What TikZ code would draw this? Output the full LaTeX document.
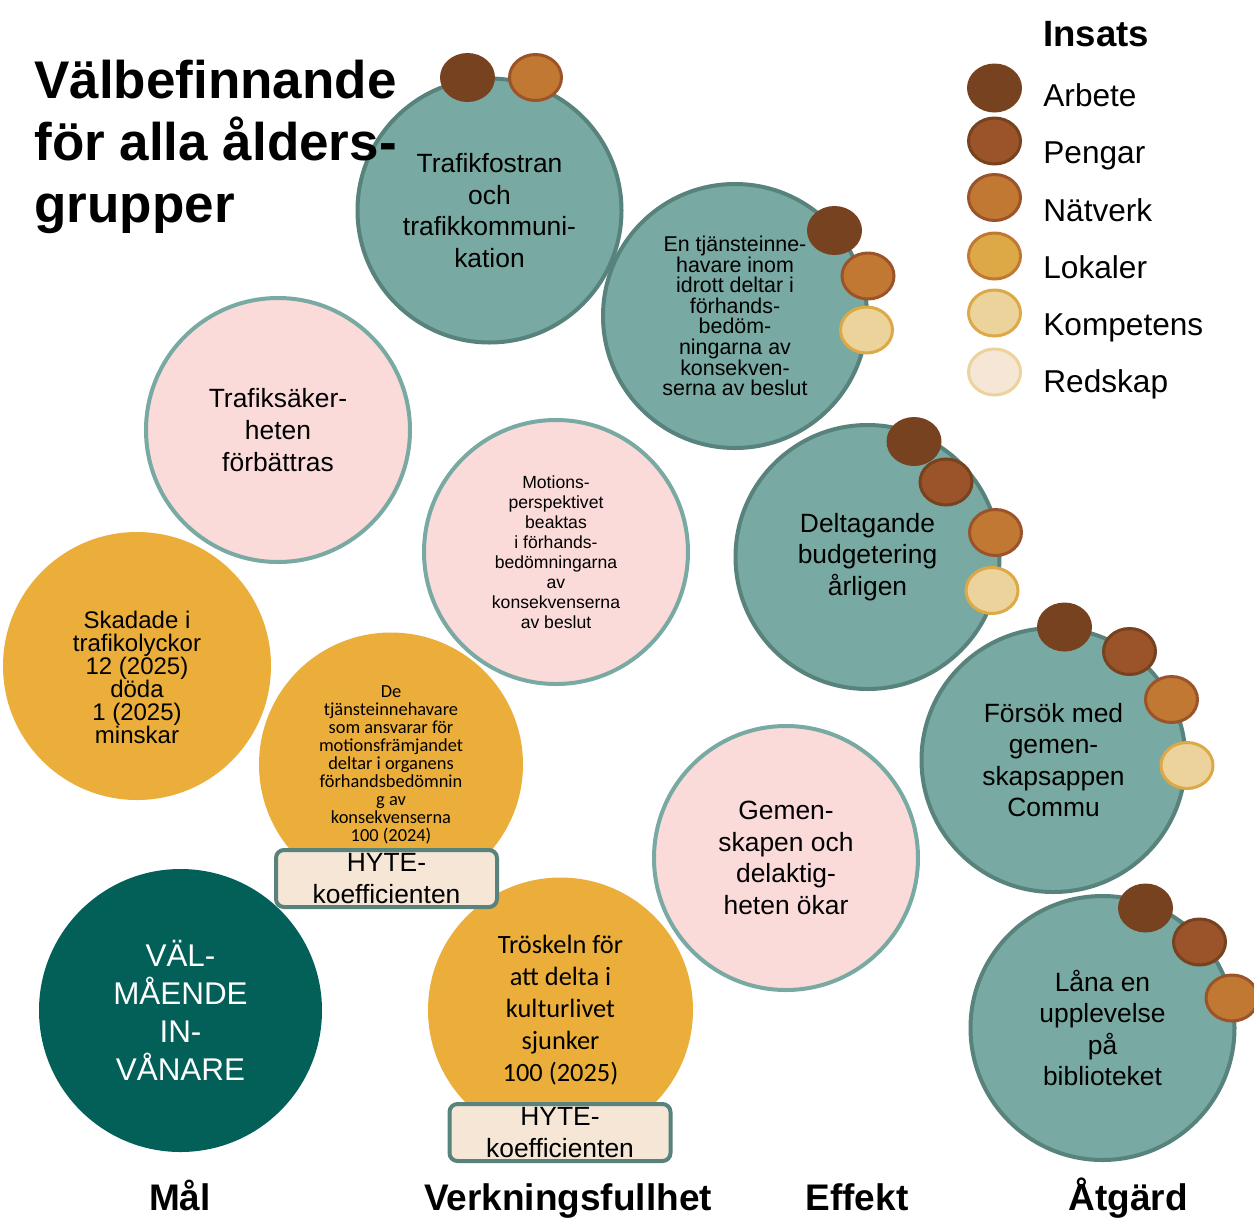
\documentclass[tikz,border=0pt]{standalone}
\usepackage{fontspec}
\setmainfont{Liberation Sans}
\newfontfamily\calib{Carlito}
\usetikzlibrary{shapes.geometric}
\definecolor{tealF}{RGB}{120,169,162}
\definecolor{tealB}{RGB}{88,130,124}
\definecolor{pinkF}{RGB}{250,219,217}
\definecolor{goldF}{RGB}{235,174,59}
\definecolor{darkT}{RGB}{2,96,89}
\definecolor{hyteF}{RGB}{245,230,214}
\definecolor{cArb}{RGB}{118,66,31}
\definecolor{cPen}{RGB}{155,83,42}
\definecolor{cNat}{RGB}{193,120,51}
\definecolor{cLok}{RGB}{221,169,70}
\definecolor{cKom}{RGB}{236,211,156}
\definecolor{cRed}{RGB}{245,230,214}
\newcommand\fsz[2]{\fontsize{#1}{#2}\selectfont}
\begin{document}
\begin{tikzpicture}[x=0.5pt,y=-0.5pt,
  act/.style={circle, draw=tealB, fill=tealF, line width=2pt, minimum size=132pt, inner sep=0pt, align=center, font=\fsz{13.2}{15.8}},
  eff/.style={circle, draw=tealF, fill=pinkF, line width=2pt, minimum size=132pt, inner sep=0pt, align=center, font=\fsz{13.2}{15.8}},
  res/.style={circle, fill=goldF, minimum size=133pt, inner sep=0pt, align=center},
  hyte/.style={rectangle, rounded corners=4pt, draw=tealB, fill=hyteF, line width=2pt, minimum width=110.5pt, minimum height=28.5pt, inner sep=0pt, align=center, font=\fsz{13.2}{16}},
  dotArb/.style={ellipse, fill=cArb, minimum width=27.5pt, minimum height=24.5pt, inner sep=0pt},
  dotB/.style={ellipse, line width=1.5pt, minimum width=26pt, minimum height=23pt, inner sep=0pt},
  dotPen/.style={dotB, fill=cPen, draw=cArb},
  dotNat/.style={dotB, fill=cNat, draw=cPen},
  dotLok/.style={dotB, fill=cLok, draw=cNat},
  dotKom/.style={dotB, fill=cKom, draw=cLok},
  dotRed/.style={dotB, fill=cRed, draw=cKom},
  legtext/.style={anchor=base west, font=\fsz{15.8}{19}, inner sep=0pt},
  coltext/.style={anchor=base, font=\bfseries\fsz{18.5}{22}, inner sep=0pt},
  titletext/.style={anchor=base west, font=\bfseries\fsz{26.5}{31}, inner sep=0pt}
]
\fill[white] (0,0) rectangle (1254,1217);
\useasboundingbox (0,0) rectangle (1254,1217);

% Åtgärd circles
\node[act] (a1) at (489.5,210.5) {Trafikfostran\\och\\trafikkommuni-\\kation};
\node[act, font=\fsz{10.7}{10.3}] (a2) at (735,316) {En tjänsteinne-\\havare inom\\idrott deltar i\\förhands-\\bedöm-\\ningarna av\\konsekven-\\serna av beslut};
\node[act] (a3) at (867.5,557) {Deltagande\\budgetering\\årligen};
\node[act] (a4) at (1053.5,760) {Försök med\\gemen-\\skapsappen\\Commu};
\node[act] (a5) at (1102.5,1028) {Låna en\\upplevelse\\på\\biblioteket};

% Effekt circles
\node[eff] (e1) at (278,430) {Trafiksäker-\\heten\\förbättras};
\node[eff, font=\fsz{8.8}{10}] (e2) at (556,552) {Motions-\\perspektivet\\beaktas\\i förhands-\\bedömningarna\\av\\konsekvenserna\\av beslut};
\node[eff] (e3) at (786,858) {Gemen-\\skapen och\\delaktig-\\heten ökar};

% Verkningsfullhet circles
\node[res, minimum size=134pt] (r1) at (137,666) {};
\node[align=center, font=\fsz{12}{11.5}, inner sep=0pt] (r1t) at (137,677) {Skadade i\\trafikolyckor\\12 (2025)\\döda\\1 (2025)\\minskar};
\node[res, minimum size=132pt, font=\calib\fsz{9.2}{9}] (r2) at (391,764.5) {De\\tjänsteinnehavare\\som ansvarar för\\motionsfrämjandet\\deltar i organens\\förhandsbedömnin\\g av\\konsekvenserna\\100 (2024)};
\node[res, minimum size=132.5pt, font=\calib\fsz{13.2}{16}] (r3) at (560.5,1010) {Tröskeln för\\att delta i\\kulturlivet\\sjunker\\100 (2025)};

% Mål
\node[circle, fill=darkT, minimum size=141.5pt, inner sep=0pt, align=center, text=white, font=\fsz{15.7}{19}] (goal) at (180.5,1010.5) {VÄL-\\MÅENDE\\IN-\\VÅNARE};

% HYTE boxes
\node[hyte] (h1) at (386.5,878.5) {HYTE-\\koefficienten};
\node[hyte] (h2) at (560,1132.5) {HYTE-\\koefficienten};

% resource dots on circles
\node[dotArb] (a1d1) at (467.5,77.5) {};
\node[dotNat] (a1d2) at (535.5,77.5) {};
\node[dotArb] (a2d1) at (834.5,230.5) {};
\node[dotNat] (a2d2) at (868,276) {};
\node[dotKom] (a2d3) at (866.5,330) {};
\node[dotArb] (a3d1) at (914,441.5) {};
\node[dotPen] (a3d2) at (946,482) {};
\node[dotNat] (a3d3) at (995.5,532.5) {};
\node[dotKom] (a3d4) at (992,590.5) {};
\node[dotArb] (a4d1) at (1064.5,627) {};
\node[dotPen] (a4d2) at (1129.5,651.5) {};
\node[dotNat] (a4d3) at (1171.5,699.5) {};
\node[dotKom] (a4d4) at (1187,765.5) {};
\node[dotArb] (a5d1) at (1145.5,908) {};
\node[dotPen] (a5d2) at (1199.5,942) {};
\node[dotNat] (a5d3) at (1232,998) {};

% Title
\node[titletext] (t1) at (34,98) {Välbefinnande};
\node[titletext] (t2) at (34,160) {för alla ålders-};
\node[titletext] (t3) at (34,222) {grupper};

% Legend
\node[anchor=base west, font=\bfseries\fsz{18.3}{22}, inner sep=0pt] (leg) at (1043,46) {Insats};
\node[dotArb] (l1) at (994.5,88) {};
\node[dotPen] (l2) at (994.5,141) {};
\node[dotNat] (l3) at (994.5,197.5) {};
\node[dotLok] (l4) at (994.5,256) {};
\node[dotKom] (l5) at (994.5,313) {};
\node[dotRed] (l6) at (994.5,372) {};
\node[legtext] (l1t) at (1043,106) {Arbete};
\node[legtext] (l2t) at (1043,163) {Pengar};
\node[legtext] (l3t) at (1043,221) {Nätverk};
\node[legtext] (l4t) at (1043,278) {Lokaler};
\node[legtext] (l5t) at (1043,335) {Kompetens};
\node[legtext] (l6t) at (1043,392) {Redskap};

% Column labels
\node[coltext] (c1) at (180,1210) {Mål};
\node[coltext] (c2) at (568,1210) {Verkningsfullhet};
\node[coltext] (c3) at (857,1210) {Effekt};
\node[coltext] (c4) at (1128,1210) {Åtgärd};
\end{tikzpicture}
\end{document}
